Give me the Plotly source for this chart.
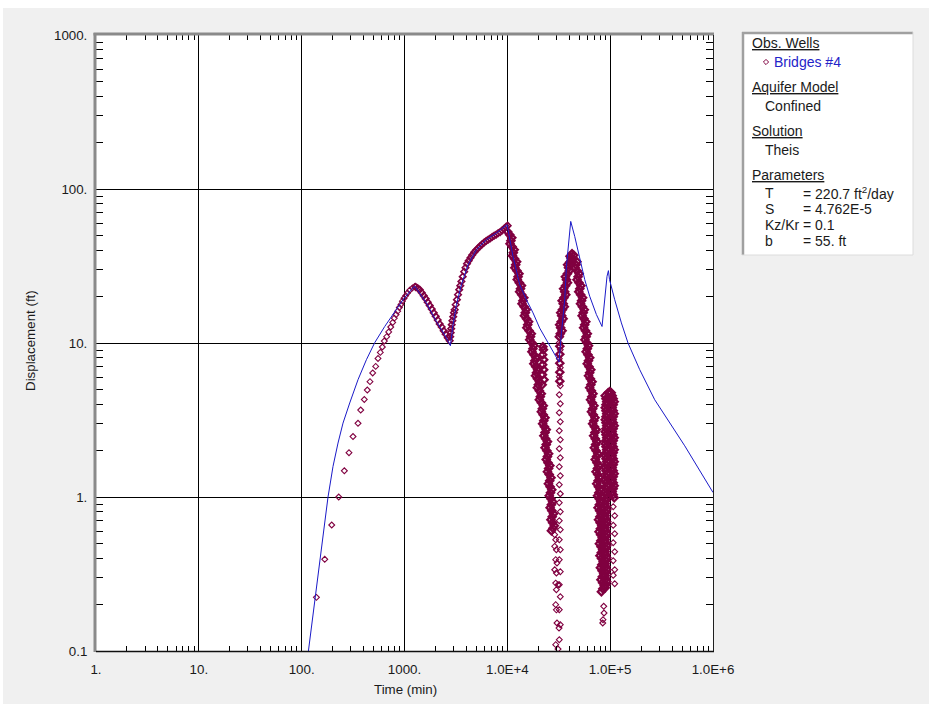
import plotly.graph_objects as go

# ---------------------------------------------------------------- data
# Theis type curve (fitted solution)
theis_time = [116.3, 128.9, 139.1, 152.2, 167.5, 180.4, 201.7, 225.6, 252.4, 293.3,
              353.2, 426.2, 513.3, 642.2, 803.1, 967, 1167, 1257, 1633, 2043,
              2460, 2796, 2964, 3197, 3577, 4146, 5004, 6259, 7832, 9931,
              11360, 13195, 15329, 17771, 20644, 23990, 27810, 31810, 33570, 36140,
              37550, 39540, 41340, 45220, 50580, 56560, 63250, 73480, 83370, 88510,
              93200, 96170, 98580, 110700, 128600, 149100, 193800, 271200, 531000, 1000000]
theis_disp = [0.1, 0.168, 0.25, 0.411, 0.678, 1.0, 1.58, 2.24, 3.02, 4.08,
              5.78, 7.79, 10.05, 12.8, 16.0, 19.1, 22.2, 23.4, 18.2, 13.8,
              11.3, 9.6, 13.15, 17.7, 23.9, 32.2, 40.4, 46.9, 51.8, 58.6,
              36.5, 23.9, 19.1, 15.7, 12.5, 10.5, 8.82, 7.53, 11.6, 19.1,
              31.4, 46.9, 61.6, 49.2, 34.8, 25.8, 20.1, 15.3, 12.8, 19.1,
              27.1, 29.5, 25.8, 19.1, 13.5, 10.0, 6.71, 4.28, 2.15, 1.07]

# Observation well Bridges #4 : time (min) and displacement (ft), by period
pump1_time = [139.1, 167.6, 196.0, 229.3, 260.0, 288.6, 315.7, 353, 375, 406.6,
              434.7, 461.9, 490.8, 524.8, 552.7, 581.9, 608.4, 636.4, 671.4, 702.2,
              734.5, 768.1, 796.2, 827.0, 859, 890, 925, 954, 989, 1027.5,
              1067, 1124, 1194, 1257]
pump1_disp = [0.223, 0.394, 0.658, 1.00, 1.48, 1.94, 2.47, 3.01, 3.67, 4.30,
              4.95, 5.61, 6.39, 7.05, 7.94, 8.69, 9.42, 10.3, 11.0, 11.8,
              12.7, 13.6, 14.5, 15.3, 16.1, 17.0, 17.8, 18.7, 19.5, 20.3,
              21.1, 22.0, 22.8, 23.3]

rec1_time = [1285, 1344, 1406, 1470, 1538, 1608, 1681, 1759, 1839, 1923,
             2011, 2103, 2199, 2300, 2406, 2515, 2632, 2752]
rec1_disp = [23.1, 22.7, 22.2, 21.2, 20.3, 19.4, 18.4, 17.5, 16.6, 15.7,
             14.9, 14.1, 13.3, 12.7, 12.0, 11.4, 10.8, 10.35]

pump2_time = [2783, 2814, 2846, 2878, 2923, 2976, 3023, 3078, 3148, 3234,
              3315, 3404, 3489, 3576, 3682, 3807, 3920, 4054, 4211, 4385,
              4554, 4764, 4982, 5210, 5449, 5698, 5960, 6232, 6518, 6815,
              7129, 7455, 7798, 8153, 8527, 8917, 9327, 9752, 10085]
pump2_disp = [10.99, 11.67, 12.39, 13.15, 13.96, 14.82, 15.73, 16.45, 17.73, 19.11,
              20.59, 22.19, 23.56, 25.12, 26.95, 29.04, 30.83, 32.73, 34.22, 35.80,
              37.27, 38.86, 40.16, 41.40, 42.66, 43.82, 44.94, 45.96, 46.87, 47.79,
              48.80, 49.76, 50.62, 51.64, 52.57, 53.92, 55.39, 56.90, 57.76]

rec2_time = [10063, 11057, 10619, 11666, 11205, 12313, 11825, 12992, 12479, 13709,
             13167, 14467, 13891, 15260, 14658, 16103, 15468, 17110, 16506, 18134,
             17338, 18967, 18092, 19704, 18794, 20512, 19565, 21406, 20465, 22387,
             21406, 23256, 22036, 23887, 22639, 24536, 23256, 25203, 23887, 25889,
             24536, 26595, 25093, 27077, 25548, 27568, 26067, 28126, 26535, 28642,
             26835,
             21834, 21980, 22080, 22080, 22182, 22434, 22585, 22585, 22737]
rec2_disp = [52.8, 48.3, 44.1, 40.35, 36.9, 33.7, 30.8, 28.2, 25.8, 23.6,
             21.5, 19.7, 18.0, 16.45, 15.04, 13.75, 12.57, 11.49, 10.50, 9.60,
             8.78, 8.03, 7.34, 6.71, 6.13, 5.61, 5.13, 4.69, 4.28, 3.92,
             3.58, 3.27, 2.99, 2.74, 2.50, 2.29, 2.09, 1.91, 1.75, 1.60,
             1.46, 1.335, 1.22, 1.115, 1.02, 0.932, 0.852, 0.779, 0.712, 0.651,
             0.604,
             5.36, 6.23, 7.23, 8.39, 9.46, 9.05, 7.79, 6.71, 5.78]

# band centre of the second recovery
rec2b_time = [10548, 10834, 11130, 11433, 11743, 12063, 12391, 12727, 13074, 13430,
              13797, 14170, 14560, 14958, 15364, 15783, 16266, 16803, 17302, 17734,
              18134, 18523, 18880, 19222, 19611, 20036, 20465, 20928, 21406, 21890,
              22313, 22634, 22938, 23252, 23568, 23886, 24209, 24539, 24869, 25203,
              25548, 25838, 26065, 26300, 26537, 26807, 27080, 27324, 27570, 27787]
rec2b_disp = [50.49, 46.16, 42.20, 38.58, 35.27, 32.24, 29.48, 26.95, 24.64, 22.52,
              20.59, 18.83, 17.21, 15.73, 14.38, 13.15, 12.02, 10.99, 10.04, 9.18,
              8.39, 7.67, 7.02, 6.41, 5.86, 5.36, 4.90, 4.48, 4.10, 3.74,
              3.42, 3.13, 2.86, 2.62, 2.39, 2.19, 2.00, 1.83, 1.67, 1.53,
              1.40, 1.276, 1.166, 1.066, 0.975, 0.891, 0.815, 0.745, 0.681, 0.627]

rec2_tail_time = [28890, 29540, 28890, 29990, 29540, 30410, 28890, 29990, 29540, 31110,
                  29990, 29540, 29990, 30410, 31810, 29540, 31110]
rec2_tail_disp = [0.569, 0.528, 0.478, 0.455, 0.392, 0.373, 0.337, 0.321, 0.276, 0.269,
                  0.250, 0.200, 0.185, 0.152, 0.141, 0.110, 0.103]

pump3_start_time = [32020, 32750, 32020, 32750, 32020, 32750, 32020, 32750, 32020, 32750,
                    32020, 32750, 32020, 32750, 32020, 32750, 32020, 32750, 32020, 32750,
                    32020, 32750, 32020, 32750, 32020, 32750, 32020, 32750, 32020, 32750,
                    32020]
pump3_start_disp = [0.1184, 0.1482, 0.1854, 0.2253, 0.2694, 0.3272, 0.3917, 0.4548, 0.5282, 0.6133,
                    0.7018, 0.8027, 0.9183, 1.050, 1.202, 1.375, 1.573, 1.800, 2.059, 2.356,
                    2.695, 3.083, 3.527, 4.035, 4.616, 5.281, 6.042, 6.912, 7.909, 9.048,
                    10.05]

pump3_time = [32040, 34110, 32260, 34880, 33050, 35820, 34100, 37050, 35270, 38480,
              36710, 40160, 38570, 42360, 40690, 42550, 44210,
              32390, 32390, 32390, 32390, 32390,
              32710, 33000, 33380, 33790, 34320, 34950, 35540, 36140, 36840, 37590,
              38400, 39360, 40430, 41530]
pump3_disp = [10.99, 12.02, 13.15, 14.38, 15.73, 17.21, 18.83, 20.59, 22.52, 24.64,
              26.95, 29.48, 32.24, 34.74, 36.60, 38.02, 37.17,
              5.65, 6.46, 7.39, 8.46, 9.53,
              11.49, 12.57, 13.75, 15.04, 16.45, 18.00, 19.69, 21.54, 23.56, 25.76,
              28.18, 30.83, 33.47, 35.64]

rec3_time = [47500, 45630, 49910, 47600, 51950, 49460, 53960, 51490, 56050, 53360,
             57990, 55180, 59970, 56820, 61610, 58370, 63290, 59830, 64870, 61610,
             66750, 63140, 68120, 64420, 69660, 65740, 71230, 67490, 73170, 69040,
             74330, 70130, 75840, 71540, 77390, 72840, 78610, 73990, 79850, 75330,
             80930, 76170, 81850, 77030, 82780, 77910, 83700, 78610, 84460, 79500,
             85420, 80380, 86560, 81310, 87540, 82220]
rec3_disp = [33.72, 30.83, 28.18, 25.76, 23.56, 21.54, 19.69, 18.00, 16.45, 15.04,
             13.75, 12.57, 11.49, 10.50, 9.60, 8.78, 8.03, 7.34, 6.71, 6.13,
             5.61, 5.13, 4.69, 4.28, 3.92, 3.58, 3.27, 2.99, 2.74, 2.50,
             2.29, 2.09, 1.91, 1.75, 1.60, 1.46, 1.335, 1.22, 1.115, 1.02,
             0.932, 0.852, 0.779, 0.712, 0.651, 0.595, 0.544, 0.497, 0.455, 0.416,
             0.380, 0.3475, 0.3177, 0.2904, 0.2655, 0.2427]

# band centre of the third recovery
rec3b_time = [46550, 47710, 48740, 49730, 50690, 51650, 52710, 53730, 54690, 55620,
              56560, 57520, 58370, 59160, 59970, 60770, 61530, 62280, 63210, 64120,
              64930, 65590, 66240, 66990, 67670, 68440, 69360, 70300, 71090, 71650,
              72220, 72950, 73690, 74420, 75100, 75690, 76280, 76880, 77570, 78100,
              78530, 78970, 79420, 79860, 80300, 80760, 81120, 81470, 81940, 82400,
              82850, 83410, 83890, 84360, 84830]
rec3b_disp = [32.24, 29.48, 26.95, 24.64, 22.52, 20.59, 18.83, 17.21, 15.73, 14.38,
              13.15, 12.02, 10.99, 10.04, 9.18, 8.39, 7.67, 7.02, 6.41, 5.86,
              5.36, 4.90, 4.48, 4.10, 3.74, 3.42, 3.13, 2.86, 2.62, 2.39,
              2.19, 2.00, 1.83, 1.67, 1.53, 1.40, 1.276, 1.166, 1.066, 0.975,
              0.891, 0.815, 0.745, 0.681, 0.623, 0.569, 0.520, 0.476, 0.435, 0.398,
              0.363, 0.332, 0.304, 0.2777, 0.2538]

rec3_tail_time = [86560, 87140, 85220, 84650]
rec3_tail_disp = [0.195, 0.1765, 0.1597, 0.152]

pump4_time = [89520, 92560, 89520, 92560, 89520, 92560, 89520, 92560, 89520, 92560,
              89520, 92560, 89520, 92560, 89520, 92560, 89520, 92560, 89520, 92560,
              89520, 92560, 89520, 92560, 89520, 92560, 89520, 92560, 89520, 92560,
              89520, 92560, 89520,
              91040, 91040, 91040, 91040, 91040, 91040, 91040, 91040, 91040, 91040,
              91040, 91040, 91040, 91040, 91040, 91040, 91040, 91040, 91040, 91040,
              91040, 91040, 91040, 91040, 91040, 91040, 91040, 91040, 91040, 91040,
              91040, 91040,
              95740, 99010, 102380, 96810, 101250,
              104710, 109490, 104710, 109490, 104710, 109490, 104710, 109490, 104710, 109490,
              104710, 109490, 104710, 109490, 104710, 109490, 104710, 109490,
              107080, 107080, 107080, 107080, 107080, 107080, 107080, 107080, 107080, 107080,
              107080, 107080, 107080, 107080, 107080, 107080, 107080]
pump4_disp = [0.2576, 0.2818, 0.3083, 0.3372, 0.3689, 0.4035, 0.4414, 0.4829, 0.5282, 0.5778,
              0.6318, 0.6914, 0.7559, 0.8270, 0.9048, 0.9896, 1.082, 1.184, 1.295, 1.417,
              1.550, 1.695, 1.854, 2.028, 2.219, 2.427, 2.655, 2.904, 3.177, 3.475,
              3.801, 4.157, 4.548,
              0.2694, 0.2947, 0.3224, 0.3527, 0.3858, 0.4220, 0.4616, 0.5050, 0.5524, 0.6042,
              0.6609, 0.7230, 0.7909, 0.8650, 0.9462, 1.035, 1.132, 1.238, 1.355, 1.482,
              1.621, 1.773, 1.940, 2.122, 2.321, 2.539, 2.777, 3.038, 3.323, 3.635,
              3.976, 4.349,
              4.757, 4.829, 4.757, 4.414, 4.414,
              4.548, 4.157, 3.801, 3.475, 3.177, 2.904, 2.655, 2.427, 2.219, 2.028,
              1.854, 1.695, 1.550, 1.417, 1.295, 1.184, 1.082, 0.9896,
              4.349, 3.976, 3.635, 3.323, 3.038, 2.777, 2.539, 2.321, 2.122, 1.940,
              1.773, 1.621, 1.482, 1.355, 1.238, 1.132, 1.035]

rec4_time = [107080, 110720, 107080, 110720, 107080, 110720, 107080, 110720, 107080, 110720]
rec4_disp = [0.865, 0.7559, 0.655, 0.5778, 0.505, 0.4414, 0.386, 0.3372, 0.310, 0.2735]

x_tick_vals = [1, 10, 100, 1000, 1e4, 1e5, 1e6]
x_tick_text = ["1.", "10.", "100.", "1000.", "1.0E+4", "1.0E+5", "1.0E+6"]
y_tick_vals = [0.1, 1, 10, 100, 1000]
y_tick_text = ["0.1", "1.", "10.", "100.", "1000."]

legend_sections = [
    ("Obs. Wells", None),
    ("Aquifer Model", "Confined"),
    ("Solution", "Theis"),
    ("Parameters", None),
]
param_names = ["T", "S", "Kz/Kr", "b"]
param_values = ["= 220.7 ft<sup>2</sup>/day", "= 4.762E-5", "= 0.1", "= 55. ft"]

# ---------------------------------------------------------------- layout helpers
W, H = 929, 704
ML, MR, MT, MB = 96, 216, 35, 53
PW, PH = W - ML - MR, H - MT - MB
FONT = "Liberation Sans, Arial, sans-serif"
FS = 13.33
FS_BOX = 14
TXT = "#1a1a1a"
OBS_COLOR = "#800040"
CURVE_COLOR = "#1a1ac8"


def fx(px):
    return (px - ML) / PW


def fy(py):
    return (H - MB - py) / PH


minor_x = [m * 10 ** e for e in range(0, 6) for m in range(2, 10)]
minor_y = [m * 10 ** e for e in range(-1, 3) for m in range(2, 10)]

fig = go.Figure()

# sparse readings drawn as plain open diamonds; the fast-logged stretches
# overlap into solid bands
sparse = dict(size=4.5, lw=1.1)
medium = dict(size=5.0, lw=1.6)
dense = dict(size=5.5, lw=2.3)
obs_sets = [
    (pump1_time, pump1_disp, sparse),
    (rec1_time, rec1_disp, medium),
    (pump2_time, pump2_disp, medium),
    (rec2_time, rec2_disp, dense),
    (rec2b_time, rec2b_disp, dense),
    (rec2_tail_time, rec2_tail_disp, sparse),
    (pump3_start_time, pump3_start_disp, sparse),
    (pump3_time, pump3_disp, dense),
    (rec3_time, rec3_disp, dense),
    (rec3b_time, rec3b_disp, dense),
    (rec3_tail_time, rec3_tail_disp, sparse),
    (pump4_time, pump4_disp, dense),
    (rec4_time, rec4_disp, sparse),
]
for t, d, st in obs_sets:
    fig.add_trace(go.Scatter(
        x=t, y=d, mode="markers", name="Bridges #4", showlegend=False,
        marker=dict(symbol="diamond-open", size=st["size"], color=OBS_COLOR,
                    line=dict(width=st["lw"], color=OBS_COLOR)),
    ))

fig.add_trace(go.Scatter(
    x=theis_time, y=theis_disp, mode="lines", name="Theis",
    line=dict(color=CURVE_COLOR, width=1), showlegend=False, hoverinfo="skip",
))

# empty trace so the mirrored top/right axes are drawn
fig.add_trace(go.Scatter(x=[], y=[], xaxis="x2", yaxis="y2", showlegend=False))

axis_common = dict(type="log", showline=False, zeroline=False,
                   tickfont=dict(family=FONT, size=FS, color=TXT))

fig.update_layout(
    width=W, height=H,
    margin=dict(l=ML, r=MR, t=MT, b=MB, pad=0),
    paper_bgcolor="#f0f0f0", plot_bgcolor="white",
    font=dict(family=FONT, size=FS, color=TXT),
    xaxis=dict(axis_common, range=[0, 6], tickmode="array",
               tickvals=x_tick_vals, ticktext=x_tick_text,
               ticks="outside", ticklen=6, tickcolor="rgba(0,0,0,0)",
               showgrid=True, gridcolor="black", gridwidth=1,
               minor=dict(tickmode="array", tickvals=minor_x, ticks="inside",
                          ticklen=5, tickcolor="black", tickwidth=1, showgrid=False)),
    yaxis=dict(axis_common, range=[-1, 3], tickmode="array",
               tickvals=y_tick_vals, ticktext=y_tick_text,
               ticks="outside", ticklen=5, tickcolor="rgba(0,0,0,0)",
               showgrid=True, gridcolor="black", gridwidth=1,
               minor=dict(tickmode="array", tickvals=minor_y, ticks="inside",
                          ticklen=7, tickcolor="black", tickwidth=1, showgrid=False)),
    xaxis2=dict(type="log", range=[0, 6], overlaying="x", side="top",
                showticklabels=False, showgrid=False, zeroline=False, ticks="",
                minor=dict(tickmode="array", tickvals=minor_x, ticks="inside",
                           ticklen=5, tickcolor="black", tickwidth=1, showgrid=False)),
    yaxis2=dict(type="log", range=[-1, 3], overlaying="y", side="right",
                showticklabels=False, showgrid=False, zeroline=False, ticks="",
                minor=dict(tickmode="array", tickvals=minor_y, ticks="inside",
                           ticklen=7, tickcolor="black", tickwidth=1, showgrid=False)),
    showlegend=False,
)

shapes = [
    # white strip along the window top and left edge
    dict(type="rect", xref="paper", yref="paper", x0=fx(-10), x1=fx(W + 10),
         y0=fy(8), y1=fy(-10), fillcolor="white", line=dict(width=0), layer="below"),
    dict(type="rect", xref="paper", yref="paper", x0=fx(-10), x1=fx(3),
         y0=fy(H + 10), y1=fy(-10), fillcolor="white", line=dict(width=0), layer="below"),
    # sunken plot frame
    dict(type="line", xref="paper", yref="paper", x0=fx(95), x1=fx(95),
         y0=fy(652), y1=fy(33), line=dict(color="#8a8a8a", width=3), layer="above"),
    dict(type="line", xref="paper", yref="paper", x0=fx(93.5), x1=fx(714),
         y0=fy(34), y1=fy(34), line=dict(color="#8a8a8a", width=3), layer="above"),
    dict(type="line", xref="paper", yref="paper", x0=fx(713.5), x1=fx(713.5),
         y0=fy(651.5), y1=fy(35), line=dict(color="#202020", width=1), layer="above"),
    dict(type="line", xref="paper", yref="paper", x0=fx(96), x1=fx(714),
         y0=fy(651.5), y1=fy(651.5), line=dict(color="#101010", width=1.5), layer="above"),
    # parameter box
    dict(type="rect", xref="paper", yref="paper", x0=fx(743), x1=fx(913),
         y0=fy(255), y1=fy(33), fillcolor="white", line=dict(width=0)),
    dict(type="line", xref="paper", yref="paper", x0=fx(743), x1=fx(743),
         y0=fy(255), y1=fy(32), line=dict(color="#a0a0a0", width=2.5)),
    dict(type="line", xref="paper", yref="paper", x0=fx(742), x1=fx(913),
         y0=fy(33), y1=fy(33), line=dict(color="#a0a0a0", width=2.5)),
    dict(type="line", xref="paper", yref="paper", x0=fx(913), x1=fx(913),
         y0=fy(255), y1=fy(32), line=dict(color="#dcdcdc", width=1)),
    dict(type="line", xref="paper", yref="paper", x0=fx(742), x1=fx(913),
         y0=fy(255), y1=fy(255), line=dict(color="#dcdcdc", width=1)),
    # legend symbol for the observation well
    dict(type="path", xref="paper", yref="paper", xsizemode="pixel", ysizemode="pixel",
         xanchor=fx(766), yanchor=fy(62), path="M -2.6 0 L 0 2.6 L 2.6 0 L 0 -2.6 Z",
         line=dict(color=OBS_COLOR, width=1)),
]

annotations = [
    dict(text="Time (min)", x=fx(405), y=fy(690), xref="paper", yref="paper",
         showarrow=False, xanchor="center", yanchor="middle",
         font=dict(family=FONT, size=FS, color=TXT)),
    dict(text="Displacement (ft)", x=fx(30), y=fy(341), xref="paper", yref="paper",
         showarrow=False, xanchor="center", yanchor="middle", textangle=-90,
         font=dict(family=FONT, size=FS, color=TXT)),
]


def legend_text(txt, px, py, color=TXT):
    annotations.append(dict(text=txt, x=fx(px), y=fy(py), xref="paper", yref="paper",
                            showarrow=False, xanchor="left", yanchor="middle",
                            borderpad=0, borderwidth=0,
                            font=dict(family=FONT, size=FS_BOX, color=color)))


section_rows = [43, 87, 131, 175]
for (head, item), row in zip(legend_sections, section_rows):
    legend_text("<u>" + head + "</u>", 752, row)
    if item is not None:
        legend_text(item, 765, row + 19)
legend_text("Bridges #4", 774, 62, color="#2323c8")

param_rows = [193, 209, 225, 241]
for name, val, row in zip(param_names, param_values, param_rows):
    legend_text(name, 765, row)
    legend_text(val, 803, row)

fig.update_layout(shapes=shapes, annotations=annotations)
fig.write_html("out.html")
